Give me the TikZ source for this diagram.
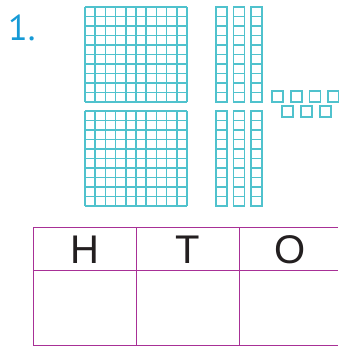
\documentclass[tikz,border=0pt]{standalone}
\usepackage{fontspec}
\setmainfont{Liberation Sans}
\newfontfamily\numfont{PT Sans}
\usetikzlibrary{positioning}
\definecolor{blockteal}{RGB}{80,194,205}
\definecolor{tablemagenta}{RGB}{168,48,150}
\definecolor{inkgrey}{RGB}{35,31,32}
\definecolor{numberblue}{RGB}{22,154,214}
\tikzset{
  cube/.style={draw=blockteal, line width=1.5pt},
  rule/.style={draw=tablemagenta, line width=1pt},
  head/.style={font=\fontsize{40}{40}\selectfont, text=inkgrey, inner sep=0pt, anchor=base},
  qnum/.style={font=\numfont\fontsize{36}{36}\selectfont, text=numberblue, inner sep=0pt, anchor=base west},
}

\begin{document}
\begin{tikzpicture}[x=1pt,y=-1pt]
  \useasboundingbox (0,0) rectangle (338,346);
  \node[qnum] (qno) at (8,40) {1.};
  % hundreds and tens, two rows
  \foreach \oy in {7,111}{
    \foreach \i in {0,...,10} \draw[cube] ({85+10.2*\i},\oy) -- ++(0,95);
    \foreach \j in {0,...,10} \draw[cube] (85,{\oy+9.5*\j}) -- ++(102,0);
    \foreach \rx in {216,233.5,251}
      \foreach \j in {0,...,9} \draw[cube] (\rx,{\oy+9.5*\j}) rectangle ++(11,9.5);
  }
  % ones
  \foreach \ux/\uy in {272/91,291/91,309.5/91,328/91,282/106,301/106,320/106}
    \draw[cube] (\ux,\uy) rectangle ++(11,11);
  % place value table
  \draw[rule] (338,227) -- (33,227) -- (33,345) -- (338,345);
  \draw[rule] (33,270) -- (338,270);
  \draw[rule] (136,227) -- (136,345);
  \draw[rule] (239,227) -- (239,345);
  \node[head] (colH) at (84.5,263.5) {H};
  \node[head] (colT) at (187.5,263.5) {T};
  \node[head] (colO) at (290,263.5) {O};
\end{tikzpicture}
\end{document}
